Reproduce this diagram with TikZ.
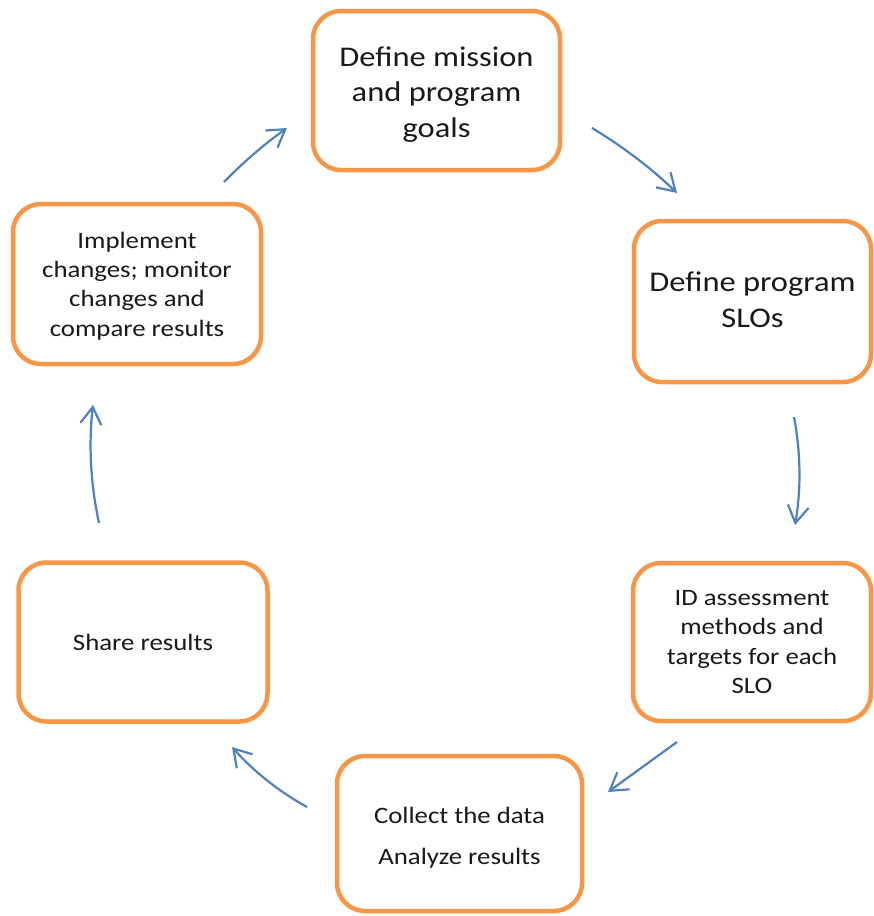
\documentclass[tikz,border=0pt]{standalone}
\usepackage{fontspec}
\setmainfont{Carlito}[FakeStretch=1.14]
\usetikzlibrary{arrows.meta}
\definecolor{boxorange}{HTML}{F79646}
\definecolor{arrowblue}{HTML}{4F81BD}
\begin{document}
\begin{tikzpicture}[x=1pt,y=-1pt,
  stagebox/.style={draw=boxorange, line width=4.5pt, rounded corners=28pt,
    fill=white, align=center, inner sep=0pt, text=black!90},
  bigtext/.style={font=\fontsize{28.5}{35.5}\selectfont},
  smalltext/.style={font=\fontsize{23.5}{29.3}\selectfont},
  cyclearrow/.style={draw=arrowblue, line width=2.2pt,
    -{Straight Barb[length=17pt,width=21pt,line width=2.2pt]}}]
\useasboundingbox (0,0) rectangle (874,916);

\node[stagebox, bigtext, minimum width=247pt, minimum height=159pt] (A) at (436.5,90.5)
  {\rule{0pt}{27pt}Define mission\\and program\\goals};
\node[stagebox, bigtext, minimum width=237pt, minimum height=161pt] (B) at (752.5,301.5)
  {Define program\\SLOs\rule[-4pt]{0pt}{4pt}};
\node[stagebox, smalltext, minimum width=238pt, minimum height=158pt] (C) at (752,642)
  {ID assessment\\methods and\\targets for each\\SLO};
\node[stagebox, smalltext, minimum width=245pt, minimum height=155pt] (D) at (459.5,833.5)
  {\rule{0pt}{25pt}Collect the data\\[12pt]Analyze results};
\node[stagebox, smalltext, minimum width=249pt, minimum height=159pt] (E) at (143,642)
  {Share results};
\node[stagebox, smalltext, minimum width=248pt, minimum height=160pt] (F) at (137,284)
  {\rule{0pt}{20pt}Implement\\changes; monitor\\changes and\\compare results};

\coordinate (a1s) at (592,128);  \coordinate (a1e) at (677,193);
\coordinate (a2s) at (794,417);  \coordinate (a2e) at (795,525);
\coordinate (a3s) at (677,742);  \coordinate (a3e) at (608,792);
\coordinate (a4s) at (307,807);  \coordinate (a4e) at (232,747);
\coordinate (a5s) at (99,523);   \coordinate (a5e) at (93,405);
\coordinate (a6s) at (224,182);  \coordinate (a6e) at (287,128);

\draw[cyclearrow] (a1s) .. controls (622.7,146.5) and (651.1,168.1) .. (a1e);
\draw[cyclearrow] (a2s) .. controls (800.8,453) and (801.2,489) .. (a2e);
\draw[cyclearrow] (a3s) -- (a3e);
\draw[cyclearrow] (a4s) .. controls (278.6,791.3) and (253.6,771.3) .. (a4e);
\draw[cyclearrow] (a5s) .. controls (90.5,483.7) and (88.5,444.3) .. (a5e);
\draw[cyclearrow] (a6s) .. controls (243.4,162.1) and (264.4,144.1) .. (a6e);
\end{tikzpicture}
\end{document}
